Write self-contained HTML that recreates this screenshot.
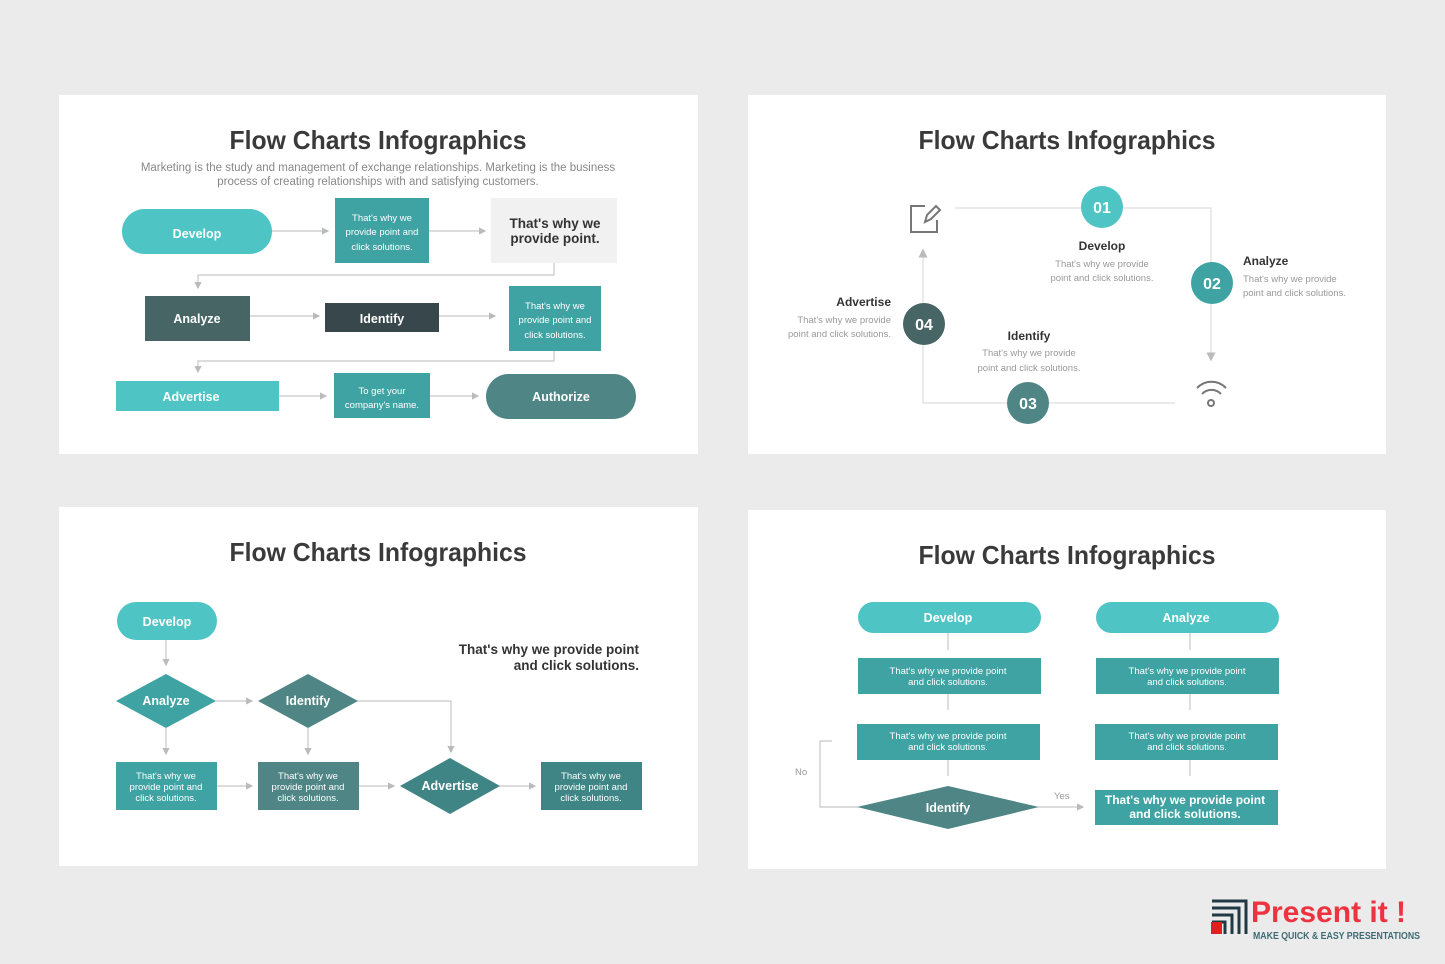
<!DOCTYPE html>
<html><head><meta charset="utf-8"><style>
html,body{margin:0;padding:0;background:#ebebeb;}
svg{display:block;font-family:"Liberation Sans",Arial,sans-serif;}
</style></head><body>
<svg width="1445" height="964" viewBox="0 0 1445 964" xmlns="http://www.w3.org/2000/svg">
<defs>
<marker id="a" markerWidth="6" markerHeight="6" refX="5" refY="3" orient="auto"><path d="M0,0 L6,3 L0,6 z" fill="#bbb"/></marker>
</defs>
<rect width="1445" height="964" fill="#ebebeb"/>
<rect x="59" y="95" width="639" height="359" fill="#fff"/>
<rect x="748" y="95" width="638" height="359" fill="#fff"/>
<rect x="59" y="507" width="639" height="359" fill="#fff"/>
<rect x="748" y="510" width="638" height="359" fill="#fff"/>

<g font-weight="bold" fill="#3a3a3a" font-size="26" text-anchor="middle">
<text x="378" y="149" textLength="297" lengthAdjust="spacingAndGlyphs">Flow Charts Infographics</text>
<text x="1067" y="149" textLength="297" lengthAdjust="spacingAndGlyphs">Flow Charts Infographics</text>
<text x="378" y="561" textLength="297" lengthAdjust="spacingAndGlyphs">Flow Charts Infographics</text>
<text x="1067" y="564" textLength="297" lengthAdjust="spacingAndGlyphs">Flow Charts Infographics</text>
</g>

<!-- PANEL 1 -->
<g font-size="11.5" fill="#888" text-anchor="middle">
<text x="378" y="171">Marketing is the study and management of exchange relationships. Marketing is the business</text>
<text x="378" y="185">process of creating relationships with and satisfying customers.</text>
</g>
<g stroke="#c8c8c8" stroke-width="1.2" fill="none">
<line x1="272" y1="231" x2="328" y2="231" marker-end="url(#a)"/>
<line x1="429" y1="231" x2="485" y2="231" marker-end="url(#a)"/>
<polyline points="554,263 554,275 198,275 198,288" marker-end="url(#a)"/>
<line x1="250" y1="316" x2="319" y2="316" marker-end="url(#a)"/>
<line x1="439" y1="316" x2="495" y2="316" marker-end="url(#a)"/>
<polyline points="554,351 554,361 198,361 198,372" marker-end="url(#a)"/>
<line x1="279" y1="396" x2="326" y2="396" marker-end="url(#a)"/>
<line x1="430" y1="396" x2="478" y2="396" marker-end="url(#a)"/>
</g>
<rect x="122" y="209" width="150" height="45" rx="22.5" fill="#4ec4c4"/>
<rect x="335" y="198" width="94" height="65" fill="#3fa3a3"/>
<rect x="491" y="198" width="126" height="65" fill="#f1f1f1"/>
<rect x="145" y="296" width="105" height="45" fill="#476565"/>
<rect x="325" y="303" width="114" height="29" fill="#37474b"/>
<rect x="509" y="286" width="92" height="65" fill="#3fa3a3"/>
<rect x="116" y="381" width="163" height="30" fill="#4ec4c4"/>
<rect x="334" y="373" width="96" height="45" fill="#3fa3a3"/>
<rect x="486" y="374" width="150" height="45" rx="22.5" fill="#4f8585"/>
<g fill="#fff" font-weight="bold" font-size="12.5" text-anchor="middle">
<text x="197" y="238">Develop</text>
<text x="197" y="323">Analyze</text>
<text x="382" y="323">Identify</text>
<text x="191" y="401">Advertise</text>
<text x="561" y="401">Authorize</text>
</g>
<g fill="#fff" font-size="9.5" text-anchor="middle">
<text x="382" y="221">That's why we</text><text x="382" y="235">provide point and</text><text x="382" y="250">click solutions.</text>
<text x="555" y="309">That's why we</text><text x="555" y="323">provide point and</text><text x="555" y="338">click solutions.</text>
<text x="382" y="394">To get your</text><text x="382" y="408">company's name.</text>
</g>
<g fill="#333" font-weight="bold" font-size="13.5" text-anchor="middle">
<text x="555" y="228">That's why we</text><text x="555" y="243">provide point.</text>
</g>

<!-- PANEL 2 -->
<g stroke="#e3e3e3" stroke-width="1.5" fill="none">
<polyline points="955,208 1211,208 1211,360" marker-end="url(#a)"/>
<polyline points="1175,403 923,403 923,250" marker-end="url(#a)"/>
</g>
<g fill="none" stroke="#777" stroke-width="2">
<polyline points="925,206 911,206 911,232 937,232 937,220"/>
<path d="M925,222 L927,215 L936,206 L940,210 L931,219 Z"/>
<path d="M1197,388 a20,20 0 0 1 29,0 M1202,394 a13,13 0 0 1 19,0"/>
<circle cx="1211" cy="403" r="3"/>
</g>
<circle cx="1102" cy="207" r="21" fill="#4ec4c4"/>
<circle cx="1212" cy="283" r="21" fill="#3fa3a3"/>
<circle cx="1028" cy="403" r="21" fill="#4f8585"/>
<circle cx="924" cy="324" r="21" fill="#476565"/>
<g fill="#fff" font-weight="bold" font-size="16" text-anchor="middle">
<text x="1102" y="213">01</text><text x="1212" y="289">02</text><text x="1028" y="409">03</text><text x="924" y="330">04</text>
</g>
<g fill="#333" font-size="12" font-weight="bold">
<text x="1102" y="250" text-anchor="middle">Develop</text>
<text x="1243" y="265">Analyze</text>
<text x="1029" y="340" text-anchor="middle">Identify</text>
<text x="891" y="306" text-anchor="end">Advertise</text>
</g>
<g fill="#999" font-size="9.5">
<text x="1102" y="267" text-anchor="middle">That's why we provide</text><text x="1102" y="281" text-anchor="middle">point and click solutions.</text>
<text x="1243" y="282">That's why we provide</text><text x="1243" y="296">point and click solutions.</text>
<text x="1029" y="356" text-anchor="middle">That's why we provide</text><text x="1029" y="371" text-anchor="middle">point and click solutions.</text>
<text x="891" y="323" text-anchor="end">That's why we provide</text><text x="891" y="337" text-anchor="end">point and click solutions.</text>
</g>

<!-- PANEL 3 -->
<g stroke="#c8c8c8" stroke-width="1.2" fill="none">
<line x1="166" y1="640" x2="166" y2="665" marker-end="url(#a)"/>
<line x1="216" y1="701" x2="252" y2="701" marker-end="url(#a)"/>
<line x1="166" y1="728" x2="166" y2="754" marker-end="url(#a)"/>
<line x1="308" y1="728" x2="308" y2="754" marker-end="url(#a)"/>
<polyline points="357,701 451,701 451,752" marker-end="url(#a)"/>
<line x1="217" y1="786" x2="252" y2="786" marker-end="url(#a)"/>
<line x1="359" y1="786" x2="394" y2="786" marker-end="url(#a)"/>
<line x1="499" y1="786" x2="535" y2="786" marker-end="url(#a)"/>
</g>
<rect x="117" y="602" width="100" height="38" rx="19" fill="#4ec4c4"/>
<polygon points="166,674 216,701 166,728 116,701" fill="#3fa3a3"/>
<polygon points="308,674 358,701 308,728 258,701" fill="#4f8585"/>
<polygon points="450,758 500,786 450,814 400,786" fill="#3f8585"/>
<rect x="116" y="762" width="101" height="48" fill="#3fa3a3"/>
<rect x="258" y="762" width="101" height="48" fill="#4f8585"/>
<rect x="541" y="762" width="101" height="48" fill="#3f8585"/>
<g fill="#fff" font-weight="bold" font-size="12.5" text-anchor="middle">
<text x="167" y="626">Develop</text><text x="166" y="705">Analyze</text><text x="308" y="705">Identify</text><text x="450" y="790">Advertise</text>
</g>
<g fill="#fff" font-size="9.5" text-anchor="middle">
<text x="166" y="779">That's why we</text><text x="166" y="790">provide point and</text><text x="166" y="801">click solutions.</text>
<text x="308" y="779">That's why we</text><text x="308" y="790">provide point and</text><text x="308" y="801">click solutions.</text>
<text x="591" y="779">That's why we</text><text x="591" y="790">provide point and</text><text x="591" y="801">click solutions.</text>
</g>
<g fill="#333" font-weight="bold" font-size="13.5" text-anchor="end">
<text x="639" y="654">That's why we provide point</text><text x="639" y="670">and click solutions.</text>
</g>

<!-- PANEL 4 -->
<g stroke="#c8c8c8" stroke-width="1.2" fill="none">
<line x1="948" y1="633" x2="948" y2="650"/>
<line x1="948" y1="694" x2="948" y2="710"/>
<line x1="948" y1="760" x2="948" y2="776"/>
<line x1="1190" y1="633" x2="1190" y2="650"/>
<line x1="1190" y1="694" x2="1190" y2="710"/>
<line x1="1190" y1="760" x2="1190" y2="776"/>
<polyline points="858,807 820,807 820,741 832,741"/>
<line x1="1038" y1="807" x2="1083" y2="807" marker-end="url(#a)"/>
</g>
<rect x="858" y="602" width="183" height="31" rx="15.5" fill="#4ec4c4"/>
<rect x="1096" y="602" width="183" height="31" rx="15.5" fill="#4ec4c4"/>
<rect x="858" y="658" width="183" height="36" fill="#3fa3a3"/>
<rect x="1096" y="658" width="183" height="36" fill="#3fa3a3"/>
<rect x="857" y="724" width="183" height="36" fill="#3fa3a3"/>
<rect x="1095" y="724" width="183" height="36" fill="#3fa3a3"/>
<rect x="1095" y="790" width="183" height="35" fill="#3fa3a3"/>
<polygon points="948,786 1039,807 948,829 857,807" fill="#4f8585"/>
<g fill="#fff" font-weight="bold" font-size="12.5" text-anchor="middle">
<text x="948" y="622">Develop</text><text x="1186" y="622">Analyze</text><text x="948" y="812">Identify</text>
</g>
<g fill="#fff" font-size="9.5" text-anchor="middle">
<text x="948" y="674">That's why we provide point</text><text x="948" y="685">and click solutions.</text>
<text x="1187" y="674">That's why we provide point</text><text x="1187" y="685">and click solutions.</text>
<text x="948" y="739">That's why we provide point</text><text x="948" y="750">and click solutions.</text>
<text x="1187" y="739">That's why we provide point</text><text x="1187" y="750">and click solutions.</text>
</g>
<g fill="#fff" font-weight="bold" font-size="12" text-anchor="middle">
<text x="1185" y="804">That's why we provide point</text><text x="1185" y="818">and click solutions.</text>
</g>
<g fill="#999" font-size="9.5"><text x="795" y="775">No</text><text x="1054" y="799">Yes</text></g>

<!-- LOGO -->
<g fill="none" stroke="#1f3a44" stroke-width="3">
<path d="M1212,901 H1246 V934"/><path d="M1212,908 H1239 V934"/><path d="M1212,915 H1232 V934"/><path d="M1212,922 H1225 V934"/>
</g>
<rect x="1211" y="922" width="11" height="12" fill="#e02020"/>
<text x="1251" y="922" font-size="30" font-weight="bold" fill="#ee3340">Present it !</text>
<text x="1253" y="939" font-size="10" font-weight="bold" fill="#3e6b73" textLength="167" lengthAdjust="spacingAndGlyphs" font-family="'Liberation Sans Narrow','Liberation Sans',sans-serif">MAKE QUICK &amp; EASY PRESENTATIONS</text>
</svg>
</body></html>
